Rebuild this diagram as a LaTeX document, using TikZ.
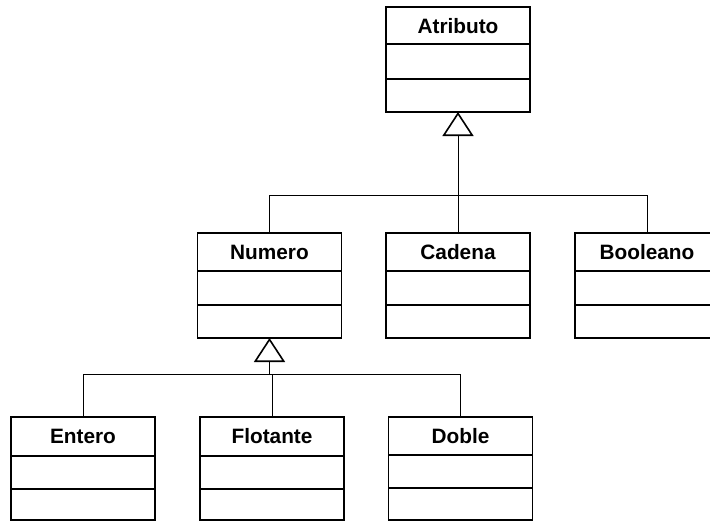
\documentclass[tikz,border=0pt]{standalone}
\usepackage{fontspec}
\setmainfont{Liberation Sans}
\usetikzlibrary{arrows.meta}
\tikzset{
  cls/.style={draw, line width=1.8pt, minimum width=144pt, inner sep=0pt, outer sep=0pt, anchor=north},
  ttl/.style={font=\fontsize{20.8}{25}\selectfont\bfseries, anchor=base, inner sep=0pt},
  sepline/.style={line width=1.8pt},
  conn/.style={line width=1pt},
  gen/.style={conn, -{Triangle[open, length=24pt, width=31pt, line width=1.6pt]}},
}
\newcommand\umlbox[7]{%
  \node[cls, minimum height={#6-#3}] (#1) at (#2,#3) {};
  \node[ttl] (#1-t) at (#2,#3+26.5) {#7};
  \draw[sepline] (#1.west |- 0,#4) -- (#1.east |- 0,#4);
  \draw[sepline] (#1.west |- 0,#5) -- (#1.east |- 0,#5);
}
\begin{document}
\begin{tikzpicture}[x=1pt,y=-1pt]
\useasboundingbox (0,0) rectangle (710,522);
\clip (0,0) rectangle (710,522);
\umlbox{atr}{458}{7}{44}{79}{112}{Atributo}
\umlbox{num}{269.5}{233}{271}{305}{338}{Numero}
\umlbox{cad}{458}{233}{271}{305}{338}{Cadena}
\umlbox{bool}{647}{233}{271}{305}{338}{Booleano}
\umlbox{ent}{83}{417}{456}{489}{520}{Entero}
\umlbox{flo}{272}{417}{456}{489}{520}{Flotante}
\umlbox{dob}{460.5}{417}{455}{488}{520}{Doble}
% first generalization
\coordinate (h1) at (458,195);
\draw[gen] (h1) -- (atr.south);
\draw[conn] (num.north) |- (bool.north |- h1) -- (bool.north);
\draw[conn] (h1) -- (cad.north);
% second generalization
\coordinate (h2) at (269.5,374);
\draw[gen] (h2) -- (num.south);
\draw[conn] (ent.north) |- (dob.north |- h2) -- (dob.north);
\draw[conn] (flo.north |- h2) -- (flo.north);
\end{tikzpicture}
\end{document}
